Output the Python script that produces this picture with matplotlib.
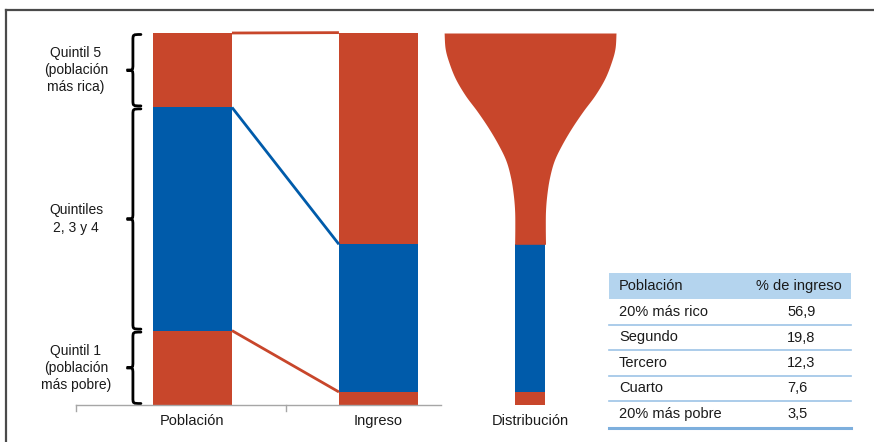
import numpy as np
import matplotlib
matplotlib.use("Agg")
import matplotlib.pyplot as plt
from matplotlib.path import Path
from matplotlib.patches import PathPatch, Rectangle
from matplotlib.lines import Line2D

plt.rcParams["font.family"] = ["Liberation Sans", "DejaVu Sans"]

RED = "#C8462B"
BLUE = "#005BAA"
TXT = "#1a1a1a"

# population shares by group (bottom quintile, quintiles 2-4, top quintile)
pop_share = [20, 60, 20]
group_labels = ["Quintil 1\n(población\nmás pobre)", "Quintiles\n2, 3 y 4",
                "Quintil 5\n(población\nmás rica)"]
categories = ["Población", "Ingreso", "Distribución"]

# income share by quintile, richest first
quintiles = ["20% más rico", "Segundo", "Tercero", "Cuarto", "20% más pobre"]
income_share = [56.9, 19.8, 12.3, 7.6, 3.5]

# champagne-glass outline: level (%) and half width (category units)
glass_level = [43.2, 47.6, 52.2, 56.5, 61.0, 65.6, 69.9, 74.5, 79.0, 83.3,
               87.9, 92.5, 96.0, 100.0]
glass_half = [0.083, 0.082, 0.083, 0.090, 0.104, 0.129, 0.170, 0.224, 0.285,
              0.349, 0.403, 0.439, 0.457, 0.462]

# income shares regrouped like the population bar
inc_group = [income_share[4], sum(income_share[1:4]), income_share[0]]
colors = [RED, BLUE, RED]


def smooth_outline(y, w, n=20):
    """Catmull-Rom pass through the outline points so the bowl is round."""
    pts = np.column_stack([y, w])
    pts = np.vstack([pts[0], pts, pts[-1]])
    out = []
    for i in range(1, len(pts) - 2):
        p0, p1, p2, p3 = pts[i - 1], pts[i], pts[i + 1], pts[i + 2]
        t = np.linspace(0, 1, n, endpoint=False)[:, None]
        out.append(0.5 * ((2 * p1) + (-p0 + p2) * t
                          + (2 * p0 - 5 * p1 + 4 * p2 - p3) * t ** 2
                          + (-p0 + 3 * p1 - 3 * p2 + p3) * t ** 3))
    out.append(pts[-2][None, :])
    out = np.vstack(out)
    return out[:, 0], out[:, 1]


fig = plt.figure(figsize=(8.74, 4.42), dpi=100)
ax = fig.add_axes([76 / 874, 37 / 442, 798 / 874, 372 / 442])
ax.set_xlim(-0.626, 3.664)
ax.set_ylim(0, 100)
ax.axis("off")

bar_w = 0.425
pop_bottom = np.concatenate([[0], np.cumsum(pop_share)[:-1]])
inc_bottom = np.concatenate([[0], np.cumsum(inc_group)[:-1]])
ax.bar(np.zeros(3), pop_share, bottom=pop_bottom, width=bar_w, color=colors)
ax.bar(np.ones(3), inc_group, bottom=inc_bottom, width=bar_w, color=colors)

# links between group boundaries of both bars
pop_top = np.cumsum(pop_share)
inc_top = np.cumsum(inc_group)
for yp, yi, c in [(pop_top[2], inc_top[2], RED), (pop_top[1], inc_top[1], BLUE),
                  (pop_top[0], inc_top[0], RED)]:
    ax.plot([bar_w / 2, 1 - bar_w / 2], [yp, yi], color=c, lw=2.0,
            solid_capstyle="butt", clip_on=False)

# glass: stem in the lower groups, flared bowl for the top quintile
gx = 1.815
stem = glass_half[0]
ax.bar([gx, gx], inc_group[:2], bottom=inc_bottom[:2], width=2 * stem,
       color=colors[:2])
lv, hw = smooth_outline(glass_level, glass_half)
ax.fill_betweenx(lv, gx - hw, gx + hw, color=RED, lw=0)

# x axis
ax.plot([-0.626, 1.336], [0, 0], color="#A6A6A6", lw=1, clip_on=False)
for xt in [-0.626, 0.505]:
    ax.plot([xt, xt], [0, -1.5], color="#A6A6A6", lw=1, clip_on=False)
for xc, lab in zip([0, 1, gx], categories):
    ax.annotate(lab, (xc, 0), xytext=(0, -6.5), textcoords="offset points",
                ha="center", va="top", fontsize=10.5, color=TXT)


def brace(ax, y0, y1, xs=-0.320, xt=-0.354, xe=-0.277, r=1.6):
    mid = (y0 + y1) / 2
    verts = [(xe, y1), (xs, y1), (xs, y1), (xs, y1 - r),
             (xs, mid + r),
             (xs, mid), (xs, mid), (xt, mid),
             (xs, mid), (xs, mid), (xs, mid - r),
             (xs, y0 + r),
             (xs, y0), (xs, y0), (xe, y0)]
    codes = [Path.MOVETO, Path.CURVE4, Path.CURVE4, Path.CURVE4,
             Path.LINETO,
             Path.CURVE4, Path.CURVE4, Path.CURVE4,
             Path.CURVE4, Path.CURVE4, Path.CURVE4,
             Path.LINETO,
             Path.CURVE4, Path.CURVE4, Path.CURVE4]
    ax.add_patch(PathPatch(Path(verts, codes), fill=False, lw=2.0,
                           color="black", capstyle="round", clip_on=False))


for b, h, lab in zip(pop_bottom, pop_share, group_labels):
    brace(ax, b + 0.4, b + h - 0.4)
    ax.text(-0.626, b + h / 2, lab, ha="center", va="center", fontsize=10,
            color=TXT, linespacing=1.3)

# overlay in pixel units for the frame and the table
ov = fig.add_axes([0, 0, 1, 1])
ov.set_xlim(0, 874)
ov.set_ylim(442, 0)
ov.axis("off")
ov.add_line(Line2D([6, 874], [10, 10], color="#4a4a4a", lw=1.6))
ov.add_line(Line2D([6, 6], [10, 442], color="#4a4a4a", lw=1.6))

tx0, tw = 609, 242
ov.add_patch(Rectangle((tx0, 273), tw, 26, color="#B4D4EE", lw=0))
ov.text(619, 286, "Población", ha="left", va="center", fontsize=10.5, color=TXT)
ov.text(799, 286, "% de ingreso", ha="center", va="center", fontsize=10.5,
        color=TXT)
for i, (name, val) in enumerate(zip(quintiles, income_share)):
    yc = 312 + i * 25.5
    ov.text(619, yc, name, ha="left", va="center", fontsize=10.5, color=TXT)
    ov.text(787, yc, f"{val:.1f}".replace(".", ","), ha="left", va="center",
            fontsize=10.5, color=TXT)
    if i < len(quintiles) - 1:
        ov.add_line(Line2D([tx0, tx0 + tw], [yc + 12.5, yc + 12.5],
                           color="#9DC3E6", lw=1.2))
ov.add_line(Line2D([tx0, tx0 + tw], [428, 428], color="#7DAFDD", lw=2.2))

fig.savefig("out.png", dpi=100)
